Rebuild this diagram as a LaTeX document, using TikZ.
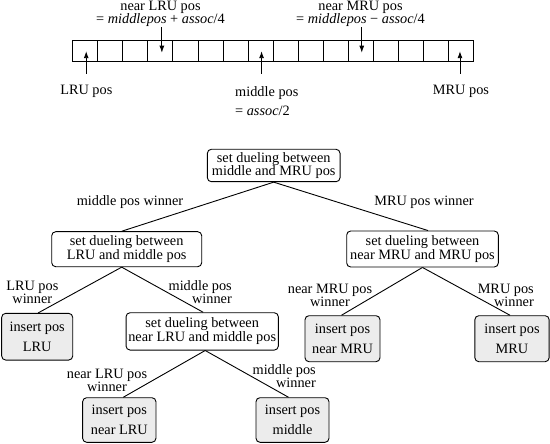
\documentclass[tikz,border=0pt]{standalone}
\usepackage{fontspec}
\setmainfont{Liberation Serif}
\usetikzlibrary{arrows.meta}
\definecolor{boxgray}{RGB}{236,236,236}
\begin{document}
\begin{tikzpicture}[x=1pt,y=-1pt,
  cell/.style={draw, line width=0.9pt, minimum width=25.05pt, minimum height=21pt, inner sep=0pt, outer sep=0pt},
  ptr/.style={line width=0.9pt, -{Latex[length=7pt,width=5pt]}},
  duel/.style={draw, rounded corners=4pt, line width=0.9pt, align=center, inner sep=1pt, font=\fontsize{14.3}{13.8}\selectfont},
  ins/.style={duel, fill=boxgray, font=\fontsize{14.3}{19.5}\selectfont},
  lbl/.style={inner sep=1pt, font=\fontsize{14.3}{13.2}\selectfont},
  conn/.style={line width=0.9pt}]
\useasboundingbox (0,0) rectangle (550,444);
% array of positions
\foreach \i in {0,...,15}
  \node[cell] (c\i) at ({72.7+25.05*(\i+0.5)},51.2) {};
% labels above/below the array
\node[lbl, align=center] (nlru) at (160.5,13.5) {near LRU pos\\= \textit{middlepos} + \textit{assoc}/4};
\node[lbl, align=center] (nmru) at (360.5,13.5) {near MRU pos\\= \textit{middlepos} − \textit{assoc}/4};
\node[lbl] (lrupos) at (86.3,91) {LRU pos};
\node[lbl, align=left, anchor=north west] (midpos) at (234,85) {middle pos\\[6pt]= \textit{assoc}/2};
\node[lbl] (mrupos) at (461,91) {MRU pos};
% pointers
\draw[ptr] ([xshift=1pt,yshift=-22.8pt]c0.center) -- ([xshift=1pt]c0.center);
\draw[ptr] ([xshift=1pt,yshift=-22.8pt]c7.center) -- ([xshift=1pt]c7.center);
\draw[ptr] ([xshift=-1pt,yshift=-22.8pt]c15.center) -- ([xshift=-1pt]c15.center);
\draw[ptr] ([xshift=1.5pt,yshift=24pt]c3.center) -- ([xshift=1.5pt,yshift=-1.5pt]c3.center);
\draw[ptr] ([xshift=1pt,yshift=24pt]c11.center) -- ([xshift=1pt,yshift=-1.5pt]c11.center);
% decision tree
\node[duel, minimum width=132.7pt, minimum height=32.4pt] (root) at (273.7,165.5) {set dueling between\\middle and MRU pos};
\node[duel, minimum width=150pt, minimum height=35pt] (l2l) at (126.7,249.2) {set dueling between\\LRU and middle pos};
\node[duel, minimum width=151.6pt, minimum height=36pt] (l2r) at (422.5,249) {set dueling between\\near MRU and MRU pos};
\node[duel, minimum width=152.3pt, minimum height=37.3pt] (l3m) at (202.2,331.4) {set dueling between\\near LRU and middle pos};
\node[ins, minimum width=71pt, minimum height=46.7pt] (ilru) at (37.2,336.7) {insert pos\\LRU};
\node[ins, minimum width=75pt, minimum height=46pt] (inmru) at (342.5,338.7) {insert pos\\near MRU};
\node[ins, minimum width=74.3pt, minimum height=46pt] (imru) at (512,338.7) {insert pos\\MRU};
\node[ins, minimum width=73.3pt, minimum height=44.6pt] (inlru) at (119.3,420) {insert pos\\near LRU};
\node[ins, minimum width=73pt, minimum height=44.6pt] (imid) at (292.5,420) {insert pos\\middle};
% connectors
\draw[conn] (root.south) -- ([xshift=-5pt]l2l.north);
\draw[conn] (root.south) -- ([xshift=5.5pt]l2r.north);
\draw[conn] ([xshift=-5pt]l2l.south) -- ([xshift=1pt]ilru.north);
\draw[conn] ([xshift=-5pt]l2l.south) -- ([xshift=1pt]l3m.north);
\draw[conn] (l2r.south) -- ([xshift=-1pt]inmru.north);
\draw[conn] (l2r.south) -- ([xshift=-2pt]imru.north);
\draw[conn] ([xshift=3pt]l3m.south) -- ([xshift=4pt]inlru.north);
\draw[conn] ([xshift=3pt]l3m.south) -- ([xshift=-4pt]imid.north);
% connector labels
\node[lbl] (w1) at (130,202) {middle pos winner};
\node[lbl] (w2) at (424,202) {MRU pos winner};
\node[lbl, align=center] (w3) at (32.3,292.5) {LRU pos\\winner};
\node[lbl, align=right, anchor=east] (w4) at (233,292.5) {middle pos\\winner};
\node[lbl, align=center] (w5) at (330,295) {near MRU pos\\winner};
\node[lbl, align=right, anchor=east] (w6) at (535,295) {MRU pos\\winner};
\node[lbl, align=center] (w7) at (107,380.5) {near LRU pos\\winner};
\node[lbl, align=right, anchor=east] (w8) at (317,376) {middle pos\\winner};
\end{tikzpicture}
\end{document}
